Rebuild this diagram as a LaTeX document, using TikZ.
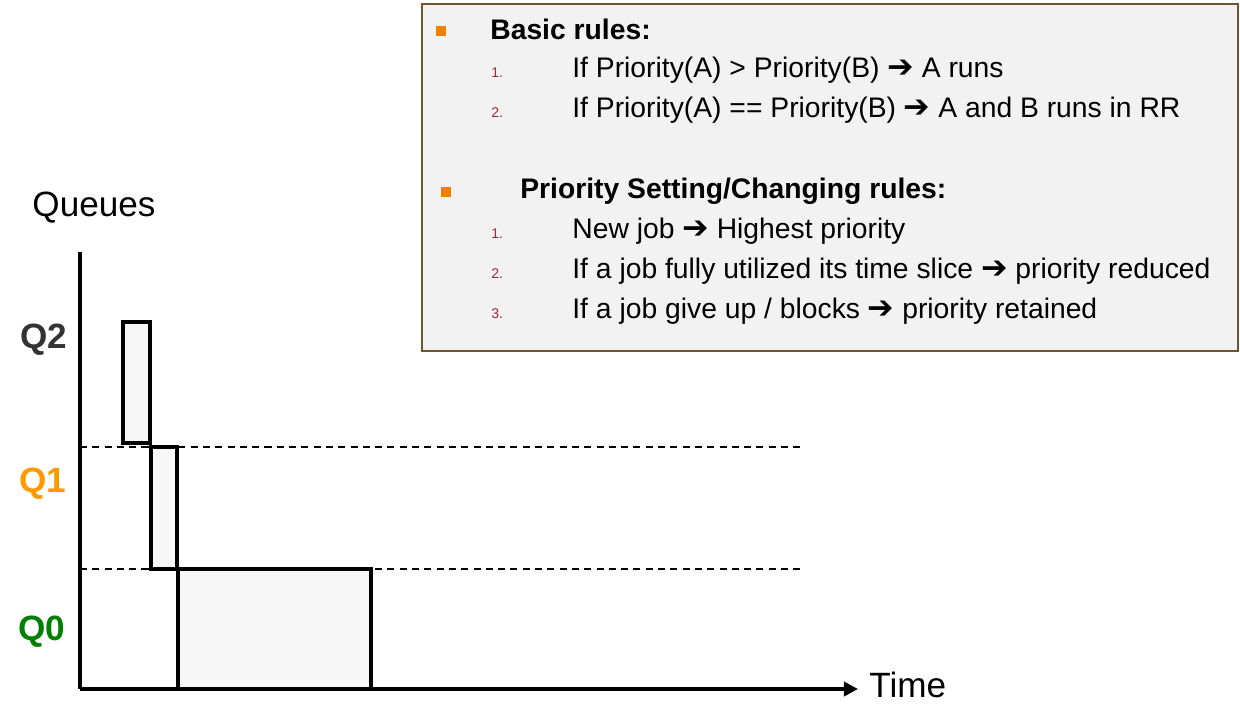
\documentclass[tikz,border=0pt]{standalone}
\usepackage{fontspec}
\setmainfont{Liberation Sans}
\newfontfamily\arrowfont{DejaVu Sans}
\usetikzlibrary{arrows.meta}
\definecolor{boxfill}{HTML}{F2F2F2}
\definecolor{boxline}{HTML}{6E5532}
\definecolor{barfill}{HTML}{F7F7F7}
\definecolor{numred}{HTML}{A0283C}
\definecolor{bulorange}{HTML}{F08000}
\definecolor{qgray}{HTML}{333333}
\definecolor{qorange}{HTML}{FF9900}
\definecolor{qgreen}{HTML}{008000}
\newcommand{\ra}{{\arrowfont\bfseries\fontsize{18}{18}\selectfont ➔}}
\tikzset{
  item/.style={anchor=west, inner sep=0pt, font=\fontsize{16.1}{18}\selectfont},
  num/.style={anchor=west, inner sep=0pt, text=numred, font=\fontsize{8}{10}\selectfont},
  head/.style={anchor=west, inner sep=0pt, font=\fontsize{16.1}{18}\selectfont\bfseries},
  bul/.style={fill=bulorange, minimum size=5.5pt, inner sep=0pt},
  qlab/.style={inner sep=0pt, font=\fontsize{20}{22}\selectfont\bfseries},
  jobbar/.style={draw=black, line width=1.8pt, fill=barfill}
}
\begin{document}
\begin{tikzpicture}[x=0.02cm, y=-0.02cm]
    \useasboundingbox (0, 0) rectangle (1240, 703);
    % rules box
    \draw [boxline, fill=boxfill, line width=1pt] (422, 4) rectangle (1238, 351);
    \node [bul] (0) at (441, 31) {};
    \node [head] (1) at (490, 29) {Basic rules:};
    \node [num] (2) at (491, 73) {1.};
    \node [item] (3) at (572, 70) {If Priority(A) > Priority(B) \ra\ A runs};
    \node [num] (4) at (491, 113) {2.};
    \node [item] (5) at (572, 110) {If Priority(A) == Priority(B) \ra\ A and B runs in RR};
    \node [bul] (6) at (446, 192) {};
    \node [head] (7) at (520, 191) {Priority Setting/Changing rules:};
    \node [num] (8) at (491, 234) {1.};
    \node [item] (9) at (572, 231) {New job \ra\ Highest priority};
    \node [num] (10) at (491, 274) {2.};
    \node [item] (11) at (572, 271) {If a job fully utilized its time slice \ra\ priority reduced};
    \node [num] (12) at (491, 314) {3.};
    \node [item] (13) at (572, 311) {If a job give up / blocks \ra\ priority retained};
    % axes
    \coordinate (14) at (80, 252);
    \coordinate (15) at (80, 689);
    \coordinate (16) at (858, 689);
    \node [inner sep=0pt, font=\fontsize{20}{22}\selectfont] (17) at (94, 208) {Queues};
    \node [inner sep=0pt, anchor=west, font=\fontsize{20}{22}\selectfont] (18) at (869, 685) {Time};
    \node [qlab, text=qgray] (19) at (44, 340) {Q2};
    \node [qlab, text=qorange] (20) at (43, 484) {Q1};
    \node [qlab, text=qgreen] (21) at (42, 632) {Q0};
    \coordinate (22) at (80, 447);
    \coordinate (23) at (800, 447);
    \coordinate (24) at (80, 569);
    \coordinate (25) at (800, 569);
    \draw [dashed, line width=0.7pt, dash pattern=on 4pt off 3pt] (22) to (23);
    \draw [dashed, line width=0.7pt, dash pattern=on 4pt off 3pt] (24) to (25);
    % bars
    \draw [jobbar] (123, 322) rectangle (150, 443);
    \draw [jobbar] (151, 447) rectangle (177, 569);
    \draw [jobbar] (178, 569) rectangle (371, 689);
    \draw [line width=2.3pt] (14) to (15);
    \draw [line width=2.3pt, -{Triangle[length=8pt, width=8pt]}] (15) to (16);
  \end{tikzpicture}
\end{document}
